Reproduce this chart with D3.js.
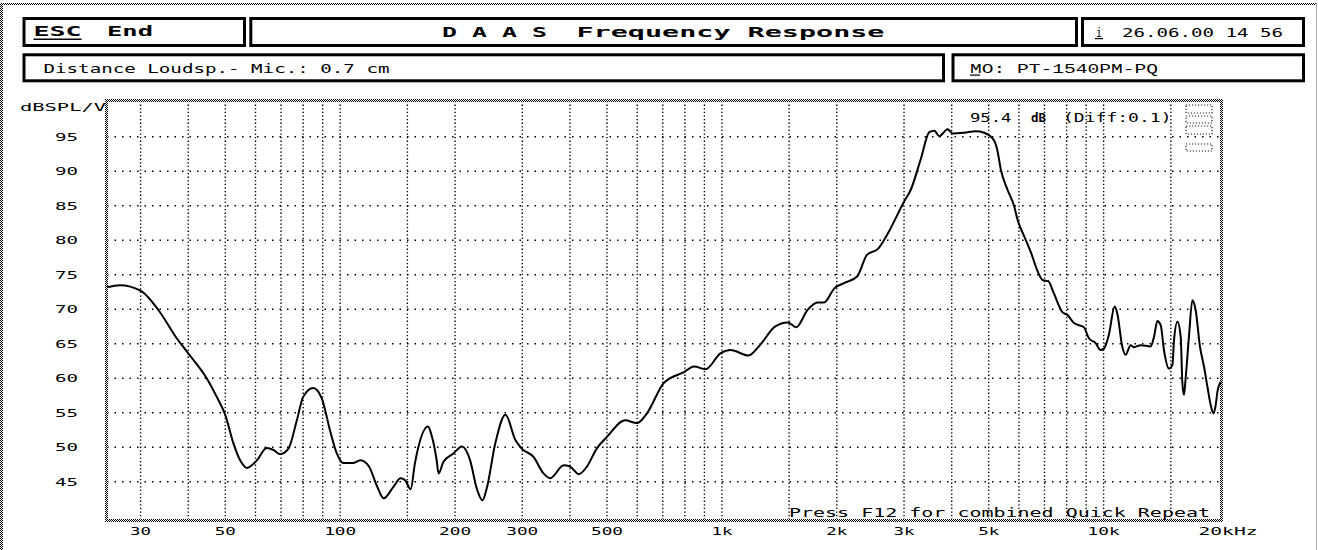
<!DOCTYPE html>
<html>
<head>
<meta charset="utf-8">
<script src="https://cdn.jsdelivr.net/npm/d3@7"></script>
<style>
  html, body { margin: 0; padding: 0; background: #fff; }
  svg { display: block; }
  text { font-family: "DejaVu Sans Mono", monospace; fill: #000; }
</style>
</head>
<body>
<svg id="chart" width="1318" height="550"></svg>
<script>
// frequency response (Hz / dBSPL)
var freqs = [24.5, 26.5, 30, 33.4, 37.3, 40, 44.7, 47.5, 50, 52.5, 54.7, 57, 60.5, 64.2, 66.9, 69.6, 73.2, 77, 80, 85,
  89.5, 94, 98, 102, 108, 113, 119, 125, 130, 138, 144, 148, 153, 157, 170, 173, 179, 181, 186.5, 198,
  208.6, 219, 228, 236, 242, 255, 271, 288, 299, 321, 341, 355, 385, 400, 422, 443, 470, 500, 558, 599,
  636, 704, 796, 846, 906, 991, 1054, 1174, 1258, 1377, 1488, 1565, 1676, 1779, 1853, 1968, 2089, 2264, 2398, 2568,
  2734, 3000, 3123, 3324, 3494, 3601, 3712, 3903, 4021, 4310, 4626, 4862, 5160, 5265, 5382, 5604, 5833, 5956, 6202, 6464,
  6728, 6941, 7154, 7409, 7796, 8030, 8360, 8880, 9150, 9530, 9820, 10020, 10320, 10690, 10860, 11190, 11420, 11770, 12010, 12500,
  13280, 13550, 13830, 14110, 14390, 14830, 15140, 15290, 15610, 15920, 16080, 16240, 16400, 16730, 17080, 17420, 17880, 18320, 18700, 19080,
  19400, 19660, 19860, 20260];
var spl = [73.2, 73.5, 72.7, 69.9, 65.8, 63.6, 60.0, 57.3, 54.7, 50.6, 48.1, 47.0, 48.1, 49.9, 49.6, 49.0, 49.8, 53.9, 57.3, 58.6,
  57.1, 52.5, 49.1, 47.7, 47.7, 48.1, 47.2, 44.3, 42.6, 44.3, 45.5, 45.2, 43.9, 47.7, 53.0, 52.0, 48.1, 46.2, 47.9, 49.1,
  50.1, 48.1, 44.0, 42.3, 44.0, 50.6, 54.7, 51.0, 49.8, 48.6, 46.2, 45.5, 47.4, 47.2, 46.1, 47.2, 49.8, 51.5, 53.9, 53.5,
  54.9, 59.3, 60.9, 61.7, 61.3, 63.6, 64.1, 63.3, 64.8, 67.5, 68.1, 67.4, 69.9, 71.0, 71.0, 73.0, 73.8, 74.8, 77.9, 78.8,
  81.2, 85.6, 87.3, 91.9, 95.7, 95.9, 95.1, 96.1, 95.5, 95.6, 95.8, 95.6, 94.5, 93.1, 90.2, 87.3, 84.9, 82.9, 80.5, 78.1,
  75.4, 74.2, 74.1, 72.3, 69.6, 69.2, 68.0, 67.4, 65.8, 65.1, 64.1, 64.3, 66.3, 70.4, 69.4, 64.6, 63.4, 64.8, 64.5, 64.8,
  64.6, 66.0, 68.3, 67.7, 64.1, 61.4, 61.9, 65.5, 68.2, 66.0, 59.3, 57.6, 60.0, 66.0, 71.3, 69.9, 64.6, 61.7, 58.8, 56.1,
  54.9, 56.1, 58.0, 59.5];

var xGrid = [30, 40, 50, 60, 70, 80, 90, 100, 150, 200, 300, 400, 500, 600, 700, 800, 900,
  1000, 1500, 2000, 3000, 4000, 5000, 6000, 7000, 8000, 9000, 10000, 15000];
var xTicks = [30, 50, 100, 200, 300, 500, 1000, 2000, 3000, 5000, 10000];
var xTickLabels = ["30", "50", "100", "200", "300", "500", "1k", "2k", "3k", "5k", "10k"];
var yTicks = [45, 50, 55, 60, 65, 70, 75, 80, 85, 90, 95];

var svg = d3.select("#chart");

var defs = svg.append("defs");
var pat = defs.append("pattern")
    .attr("id", "dith")
    .attr("width", 2).attr("height", 2)
    .attr("patternUnits", "userSpaceOnUse");
pat.append("rect").attr("width", 2).attr("height", 2).attr("fill", "#fff");
pat.append("rect").attr("width", 1).attr("height", 1).attr("fill", "#000");
pat.append("rect").attr("x", 1).attr("y", 1).attr("width", 1).attr("height", 1).attr("fill", "#000");

// plot box
var pLeft = 107, pRight = 1221, pTop = 101, pBottom = 520;

var x = d3.scaleLog().domain([24.5, 20300]).range([pLeft, pRight]);
var y = d3.scaleLinear().domain([39.45, 100.2]).range([pBottom, pTop]);

// text helper: stretch the monospace font to the wide bitmap look
function txt(g, str, x0, y0, w, size, bold, fam) {
    return g.append("text")
        .attr("x", x0)
        .attr("y", y0)
        .attr("textLength", w)
        .attr("lengthAdjust", "spacingAndGlyphs")
        .style("font-size", size + "px")
        .style("font-weight", bold ? "bold" : "normal")
        .style("font-family", fam || null)
        .text(str);
}

// outer frame
svg.append("rect").attr("x", 0).attr("y", 3).attr("width", 1316).attr("height", 2).attr("fill", "url(#dith)");
svg.append("rect").attr("x", 0).attr("y", 3).attr("width", 3).attr("height", 547).attr("fill", "url(#dith)");
svg.append("rect").attr("x", 1316).attr("y", 3).attr("width", 1).attr("height", 547).attr("fill", "#aaa");

// header boxes
var header = svg.append("g");
var boxes = [
    [24, 18.5, 220.5, 27],
    [250.8, 18.5, 825.7, 27],
    [1082.5, 18.5, 221, 27],
    [24, 54.8, 919.5, 26],
    [953, 54.8, 350.5, 26]
];
header.selectAll("rect")
    .data(boxes)
    .enter().append("rect")
    .attr("x", function (d) { return d[0]; })
    .attr("y", function (d) { return d[1]; })
    .attr("width", function (d) { return d[2]; })
    .attr("height", function (d) { return d[3]; })
    .attr("fill", "#fff")
    .attr("stroke", "#000")
    .attr("stroke-width", 3);

txt(header, "ESC", 33.5, 36, 48, 13.5, true);
header.append("rect").attr("x", 33.5).attr("y", 38.5).attr("width", 48).attr("height", 1.5).attr("fill", "#000");
txt(header, "End", 107, 36, 46, 13.5, true);
txt(header, "D A A S", 442, 36.5, 105, 13.5, true);
txt(header, "Frequency Response", 576.5, 36.5, 308, 13.5, true);
txt(header, "i", 1096, 36.5, 6, 13, false);
header.append("rect").attr("x", 1095).attr("y", 38).attr("width", 8).attr("height", 1.2).attr("fill", "#000");
txt(header, "26.06.00 14 56", 1122, 36.5, 161, 13, false);
txt(header, "Distance Loudsp.- Mic.: 0.7 cm", 43.5, 73, 346, 13, false);
txt(header, "MO: PT-1540PM-PQ", 970, 72.5, 188, 13, false, "Liberation Mono");
header.append("rect").attr("x", 970).attr("y", 74.5).attr("width", 10).attr("height", 1.2).attr("fill", "#000");

// grid
var grid = svg.append("g");
grid.selectAll("line.h")
    .data(yTicks)
    .enter().append("line")
    .attr("class", "h")
    .attr("x1", pLeft).attr("x2", pRight)
    .attr("y1", function (d) { return y(d); })
    .attr("y2", function (d) { return y(d); })
    .attr("stroke", "#000")
    .attr("stroke-width", 1.5)
    .attr("stroke-dasharray", "1.5,6");
grid.selectAll("line.v")
    .data(xGrid)
    .enter().append("line")
    .attr("class", "v")
    .attr("x1", function (d) { return x(d); })
    .attr("x2", function (d) { return x(d); })
    .attr("y1", pTop).attr("y2", pBottom)
    .attr("stroke", "#000")
    .attr("stroke-width", 1.4)
    .attr("stroke-dasharray", "1.3,2.3");

// small dotted legend icon top right
var icon = svg.append("g");
[[105, 8], [116, 7], [126, 8], [144, 7]].forEach(function (r) {
    icon.append("rect")
        .attr("x", 1186).attr("y", r[0]).attr("width", 26).attr("height", r[1])
        .attr("fill", "none").attr("stroke", "#222").attr("stroke-width", 1.2)
        .attr("stroke-dasharray", "1.2,1.8");
});

// frame of the plot area
var frame = svg.append("g");
frame.append("rect").attr("x", pLeft - 2).attr("y", pTop - 2).attr("width", pRight - pLeft + 4).attr("height", 3).attr("fill", "url(#dith)");
frame.append("rect").attr("x", pLeft - 2).attr("y", pBottom - 1).attr("width", pRight - pLeft + 4).attr("height", 3).attr("fill", "url(#dith)");
frame.append("rect").attr("x", pLeft - 2).attr("y", pTop - 2).attr("width", 3).attr("height", pBottom - pTop + 4).attr("fill", "url(#dith)");
frame.append("rect").attr("x", pRight - 1).attr("y", pTop - 2).attr("width", 3).attr("height", pBottom - pTop + 4).attr("fill", "url(#dith)");

// axis labels
var axes = svg.append("g");
yTicks.forEach(function (v) {
    txt(axes, String(v), 55, y(v) + 4, 23, 11, false);
});
xTicks.forEach(function (v, i) {
    var s = xTickLabels[i];
    var w = 11 * s.length - 1;
    txt(axes, s, x(v) - w / 2, 535, w, 11, false);
});
txt(axes, "20kHz", x(20000) - 20, 535, 59, 11, false);
txt(axes, "dBSPL/V", 20, 110.5, 86, 11, false);

// annotations inside plot
txt(axes, "95.4", 970, 122, 41.5, 13, false);
txt(axes, "dB", 1031, 122, 15, 13, true);
txt(axes, "(Diff:0.1)", 1063, 122, 108.5, 13, false);
txt(axes, "Press F12 for combined Quick Repeat", 789, 517, 421, 11.5, false);

// response curve
var pts = freqs.map(function (f, i) { return [f, spl[i]]; });
var line = d3.line()
    .curve(d3.curveMonotoneX)
    .x(function (d) { return x(d[0]); })
    .y(function (d) { return y(d[1]); });

svg.append("path")
    .datum(pts)
    .attr("fill", "none")
    .attr("stroke", "#000")
    .attr("stroke-width", 2)
    .attr("stroke-linejoin", "round")
    .attr("d", line);
</script>
</body>
</html>
